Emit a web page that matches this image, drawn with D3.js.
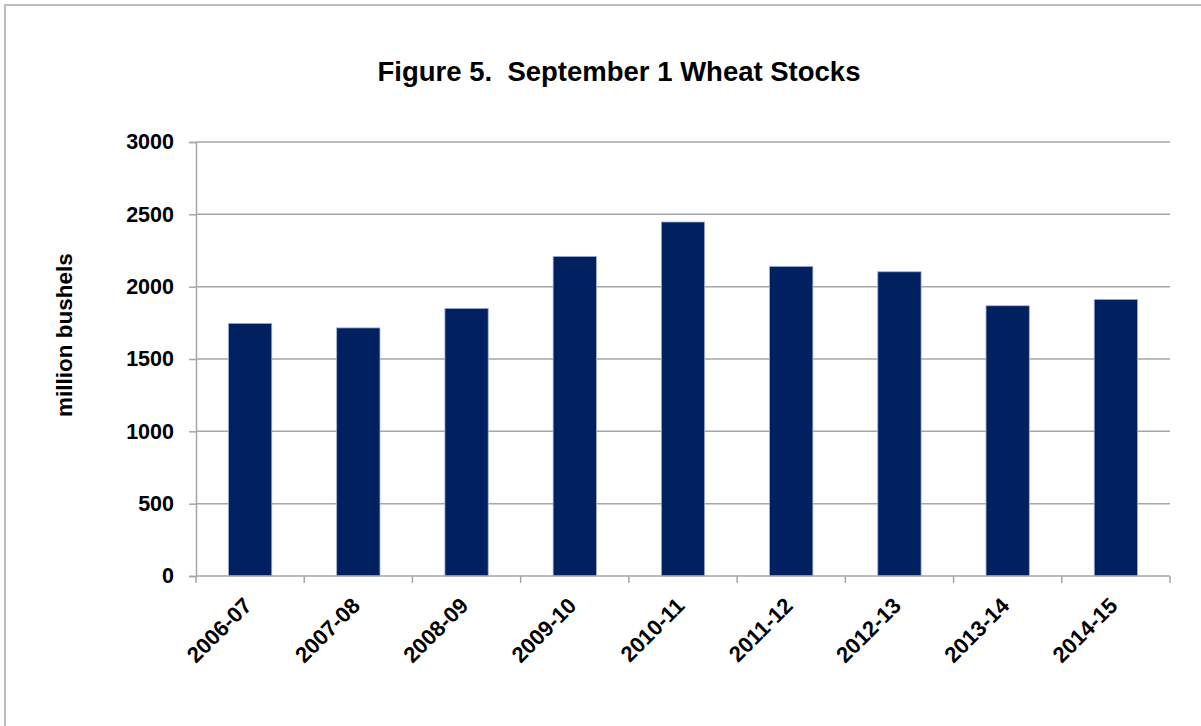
<!DOCTYPE html>
<html>
<head>
<meta charset="utf-8">
<script src="https://cdn.jsdelivr.net/npm/d3@7"></script>
<style>
	body { margin: 0; background: #fff; }
	svg { display: block; font-family: "Liberation Sans", Arial, sans-serif; }
</style>
</head>
<body>
<svg id="chart" width="1201" height="726"></svg>
<script>
// september 1 stocks, million bushels
var seasons = ["2006-07", "2007-08", "2008-09", "2009-10", "2010-11", "2011-12", "2012-13", "2013-14", "2014-15"];
var stocks = [1746, 1715, 1850, 2209, 2447, 2140, 2103, 1868, 1912];
var yTicks = [0, 500, 1000, 1500, 2000, 2500, 3000];

var svg = d3.select("#chart"),
	plotLeft = 196,
	plotRight = 1170,
	plotTop = 142,
	plotBottom = 576,
	gridColor = "#a6a6a6",
	barColor = "#002060";

var x = d3.scaleBand()
	.domain(seasons)
	.range([plotLeft, plotRight])
	.paddingInner(0.6)
	.paddingOuter(0.3);

var y = d3.scaleLinear()
	.domain([0, 3000])
	.range([plotBottom, plotTop]);

// outer frame
svg.append("rect")
	.attr("x", 5)
	.attr("y", 5)
	.attr("width", 1400)
	.attr("height", 1000)
	.attr("fill", "none")
	.attr("stroke", "#bdbdbd")
	.attr("stroke-width", 2);

svg.append("text")
	.attr("x", 619)
	.attr("y", 81)
	.attr("text-anchor", "middle")
	.attr("font-size", 27.5)
	.attr("font-weight", "bold")
	.style("white-space", "pre")
	.text("Figure 5.  September 1 Wheat Stocks");

// gridlines
svg.append("g")
	.selectAll("line")
	.data(yTicks.filter(function(d) { return d > 0; }))
	.enter().append("line")
	.attr("x1", plotLeft)
	.attr("x2", plotRight)
	.attr("y1", function(d) { return y(d); })
	.attr("y2", function(d) { return y(d); })
	.attr("stroke", gridColor)
	.attr("stroke-width", 1.5);

// y axis
var yAxis = svg.append("g")
	.attr("transform", "translate(" + plotLeft + ",0)")
	.call(d3.axisLeft(y).tickValues(yTicks).tickSize(7).tickPadding(15).tickFormat(d3.format("d")));
yAxis.select(".domain").attr("stroke", gridColor).attr("stroke-width", 1.5);
yAxis.selectAll(".tick line").attr("stroke", gridColor).attr("stroke-width", 1.5);
yAxis.selectAll("text")
	.attr("font-size", 21.5)
	.attr("font-weight", "bold")
	.attr("font-family", "Liberation Sans, Arial, sans-serif")
	.attr("fill", "#000");

// bars
svg.append("g")
	.selectAll("rect")
	.data(seasons)
	.enter().append("rect")
	.attr("x", function(d) { return x(d); })
	.attr("y", function(d, i) { return y(stocks[i]); })
	.attr("width", x.bandwidth())
	.attr("height", function(d, i) { return y(0) - y(stocks[i]); })
	.attr("fill", barColor)
	.attr("stroke", "#9fb0d2")
	.attr("stroke-width", 0.8);

// x axis, ticks sit on the band edges
var edges = seasons.map(function(d) { return x(d) - x.step() * x.paddingInner() / 2; });
edges.push(plotRight);

var xAxis = svg.append("g");
xAxis.append("line")
	.attr("x1", plotLeft)
	.attr("x2", plotRight)
	.attr("y1", plotBottom)
	.attr("y2", plotBottom)
	.attr("stroke", gridColor)
	.attr("stroke-width", 1.5);
xAxis.selectAll(".edge")
	.data(edges)
	.enter().append("line")
	.attr("class", "edge")
	.attr("x1", function(d) { return d; })
	.attr("x2", function(d) { return d; })
	.attr("y1", plotBottom)
	.attr("y2", plotBottom + 7)
	.attr("stroke", gridColor)
	.attr("stroke-width", 1.5);

xAxis.selectAll("text")
	.data(seasons)
	.enter().append("text")
	.attr("transform", function(d) {
		return "translate(" + (x(d) + x.bandwidth() / 2 + 3) + "," + (plotBottom + 31) + ") rotate(-45)";
	})
	.attr("text-anchor", "end")
	.attr("font-size", 22)
	.attr("font-weight", "bold")
	.text(function(d) { return d; });

// y axis title
svg.append("text")
	.attr("transform", "translate(72,335) rotate(-90)")
	.attr("text-anchor", "middle")
	.attr("font-size", 22.5)
	.attr("font-weight", "bold")
	.text("million bushels");
</script>
</body>
</html>
